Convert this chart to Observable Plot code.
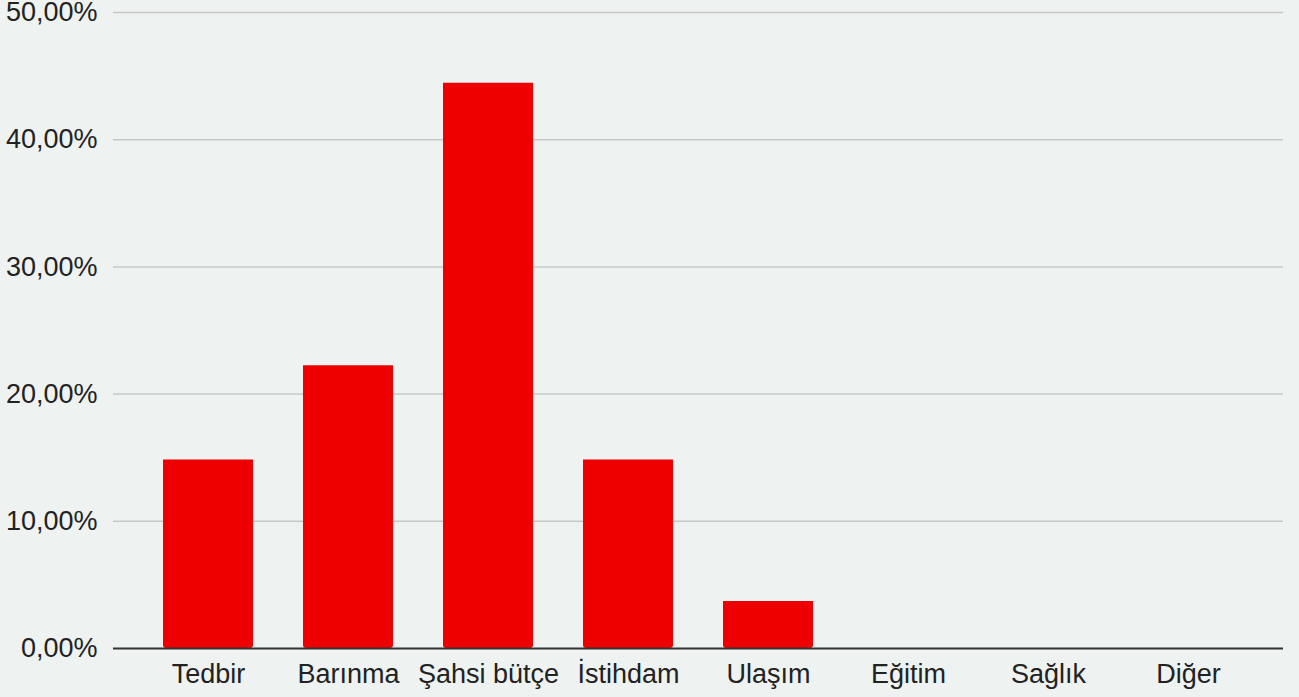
<!DOCTYPE html>
<html>
<head>
<meta charset="utf-8">
<script src="https://cdn.jsdelivr.net/npm/d3@7"></script>
<script src="https://cdn.jsdelivr.net/npm/@observablehq/plot@0.6"></script>
<style>
  html, body { margin: 0; padding: 0; background: #eef2f1; }
  #chart svg { display: block; overflow: visible; }
</style>
</head>
<body>
<div id="chart"></div>
<script>
const categories = ["Tedbir", "Barınma", "Şahsi bütçe", "İstihdam", "Ulaşım", "Eğitim", "Sağlık", "Diğer"];
const values = [14.81, 22.22, 44.44, 14.81, 3.70, 0, 0, 0];
const yTicks = [0, 10, 20, 30, 40, 50];

const data = categories.map((c, i) => ({category: c, value: values[i]}));
const fmt = d => d.toFixed(2).replace(".", ",") + "%";

const chart = Plot.plot({
  width: 1299,
  height: 697,
  marginLeft: 113,
  marginRight: 16,
  marginTop: 12,
  marginBottom: 49,
  style: {background: "#eef2f1", fontFamily: "'Liberation Sans', Arial, sans-serif", fontSize: "27px", color: "#222", overflow: "visible"},
  x: {domain: categories, padding: 0.357, label: null, tickSize: 0, tickPadding: 15},
  y: {domain: [0, 50], ticks: yTicks, tickFormat: fmt, label: null, tickSize: 0, tickPadding: 16},
  marks: [
    Plot.ruleY(yTicks.filter(d => d > 0), {stroke: "#c6c8c8", strokeWidth: 1.5}),
    Plot.barY(data.filter(d => d.value > 0), {x: "category", y: "value", fill: "#ee0000", ry2: 3, rx: 3}),
    Plot.ruleY([0], {stroke: "#333", strokeWidth: 2}),
    Plot.axisX({tickSize: 0, tickPadding: 15, fontSize: 27, fill: "#222"}),
    Plot.axisY({ticks: yTicks, tickFormat: fmt, tickSize: 0, tickPadding: 16, fontSize: 27, fill: "#222"})
  ]
});
document.getElementById("chart").appendChild(chart);
</script>
</body>
</html>
